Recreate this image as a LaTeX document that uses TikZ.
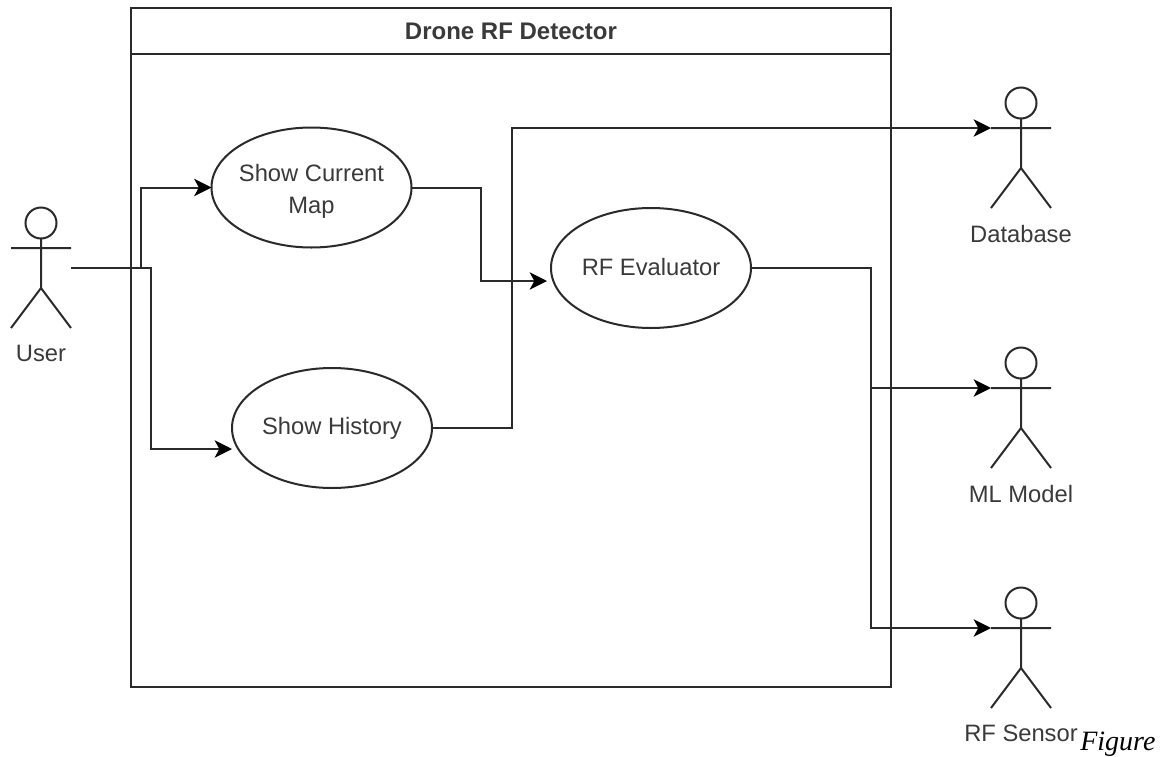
\documentclass[tikz,border=0pt]{standalone}
\usepackage{fontspec}
\setmainfont{Liberation Sans}
\newfontfamily\figfont{Liberation Serif}
\usetikzlibrary{shapes.geometric,arrows.meta,positioning}
\definecolor{ink}{HTML}{2A2A2A}
\definecolor{txt}{HTML}{3A3A3A}
\tikzset{
  line/.style={draw=ink,line width=1.5pt},
  usecase/.style={ellipse,line,minimum width=150pt,minimum height=90pt,inner sep=-8pt,outer sep=0pt,align=center,font=\fontsize{17.8}{24}\selectfont,text=txt},
  conn/.style={line,line join=miter},
  arr/.style={conn,-{Stealth[length=13pt,width=13pt,inset=3.5pt,color=black]}},
  lbl/.style={font=\fontsize{17.8}{23}\selectfont,text=txt,inner sep=0pt},
  pics/actor/.style={code={
    \draw[line] (0,-25) circle (15.5);
    \draw[line] (0,-9.5) -- (0,40) (-30,0) -- (30,0) (-30,80) -- (0,40) -- (30,80);
  }}
}
\begin{document}
\begin{tikzpicture}[x=0.75pt,y=-0.75pt]
\useasboundingbox (0,0) rectangle (1168,757);
\fill[white] (0,0) rectangle (1168,757);
% system box
\node[line,outer sep=0pt,minimum width=570pt,minimum height=509.25pt,inner sep=0pt,anchor=north west] (sys) at (131,8) {};
\node[line,outer sep=0pt,minimum width=570pt,minimum height=34.5pt,inner sep=0pt,anchor=north west,font=\bfseries\fontsize{18}{20}\selectfont,text=txt] (title) at (131,8) {\raisebox{-0.7pt}{Drone RF Detector}};
% use cases
\node[usecase] (map) at (311.5,187.5) {\rule{0pt}{18pt}Show Current\\Map};
\node[usecase] (hist) at (332,428) {Show History};
\node[usecase] (eval) at (651,268) {\raisebox{1pt}{RF Evaluator}};
% actors
\pic at (41,248) {actor};
\pic at (1021,128) {actor};
\pic at (1021,388) {actor};
\pic at (1021,628) {actor};
\coordinate (user) at (71,268);
\coordinate (db) at (991,128);
\coordinate (ml) at (991,388);
\coordinate (rf) at (991,628);
\coordinate (evalin) at (547,281);
\coordinate (histin) at (232,449);
\node[lbl] (userl) at (41,353) {User};
\node[lbl] (dbl) at (1021,234) {Database};
\node[lbl] (mll) at (1021,494) {ML Model};
\node[lbl] (rfl) at (1021,733) {RF Sensor};
\node[inner sep=0pt,anchor=base west,font=\figfont\itshape\fontsize{21}{24}\selectfont] (fig) at (1080,750) {Figure};
% connectors
\draw[arr] (user) -- (141,268) -- (141,187.5) -- (map.west);
\draw[arr] (user) -- (151,268) -- (151,449) -- (histin);
\draw[arr] (map.east) -- (481,187.5) -- (481,281) -- (evalin);
\draw[arr] (hist.east) -- (512,428) -- (512,128) -- (db);
\draw[arr] (eval.east) -- (871,268) -- (871,388) -- (ml);
\draw[arr] (eval.east) -- (871,268) -- (871,628) -- (rf);
\end{tikzpicture}
\end{document}
